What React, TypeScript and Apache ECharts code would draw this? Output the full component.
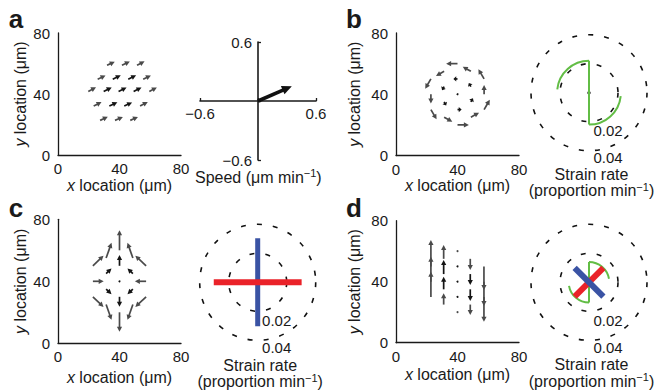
import React, { useEffect, useRef } from 'react';
import * as echarts from 'echarts';

const FONT = '"Liberation Sans", Arial, Helvetica, sans-serif';
const INK = '#1a1a1a';
const DARK = '#141414';
const GRAY = '#4a4a4a';

// tick values
const fieldTicks = [0, 40, 80];
const speedTicks = [-0.6, 0, 0.6];
const strainTicks = [0.02, 0.04];

// vector fields: [x tail, y tail, u, v] in µm
const fieldA = [
  [31.9, 58.8, 5.0, 2.4], [41.6, 58.8, 5.1, 2.5], [51.4, 58.8, 4.9, 2.6],
  [25.8, 49.7, 5.1, 2.4], [35.6, 49.7, 5.2, 2.6], [45.7, 49.7, 5.1, 2.6], [55.4, 49.7, 5.0, 2.5],
  [19.7, 41.7, 5.0, 2.7], [29.7, 41.7, 5.2, 2.6], [39.4, 41.7, 5.2, 2.5], [49.2, 41.7, 5.1, 2.5], [59.4, 41.7, 4.9, 2.6],
  [23.2, 32.1, 5.1, 2.6], [33.4, 32.1, 5.2, 2.5], [43.1, 32.1, 5.1, 2.4], [53.4, 32.1, 5.0, 2.7],
  [27.4, 22.7, 5.0, 2.4], [37.1, 22.7, 5.1, 2.3], [47.0, 22.7, 5.0, 2.3],
];
const speedA = [[0, 0, 0.35, 0.15]];
const fieldB = [
  [22.7, 30, 3.7, -6.4], [22.7, 40, 0, -6.1], [22.7, 50, -3.7, -6.4],
  [31.3, 25, 5.3, -3.0], [31.3, 35, 1.35, -2.35], [31.3, 45, -1.35, -2.35], [31.3, 55, -5.3, -3.0],
  [40, 20, 7.4, 0], [40, 30, 2.7, 0], [40, 40, 0, 0], [40, 50, -2.7, 0], [40, 60, -7.4, 0],
  [48.7, 25, 5.3, 3.0], [48.7, 35, 1.35, 2.35], [48.7, 45, -1.35, 2.35], [48.7, 55, -5.3, 3.0],
  [57.3, 30, 3.7, 6.4], [57.3, 40, 0, 6.1], [57.3, 50, -3.7, 6.4],
];
const fieldC = [
  [22.7, 30, 6.9, -6.5], [22.7, 40, 7.0, 0], [22.7, 50, 6.9, 6.5],
  [31.3, 25, 3.5, -9.8], [31.3, 35, 3.5, -3.3], [31.3, 45, 3.5, 3.3], [31.3, 55, 3.5, 9.8],
  [40, 20, 0, -12.5], [40, 30, 0, -6.4], [40, 40, 0, 0], [40, 50, 0, 7.0], [40, 60, 0, 13.0],
  [48.7, 25, -3.5, -9.8], [48.7, 35, -3.5, -3.3], [48.7, 45, -3.5, 3.3], [48.7, 55, -3.5, 9.8],
  [57.3, 30, -7.0, -6.5], [57.3, 40, -7.3, 0], [57.3, 50, -7.0, 6.5],
];
const fieldD = [
  [22.7, 30, 0, 16.6], [22.7, 40, 0, 16.4], [22.7, 50, 0, 17.3],
  [31.0, 25, 0, 7.4], [31.0, 35, 0, 8.3], [31.0, 45, 0, 9.2], [31.0, 55, 0, 9.0],
  [40, 20, 0, 0], [40, 30, 0, 0], [40, 40, 0, 0], [40, 50, 0, 0], [40, 60, 0, 0],
  [48.3, 25, 0, -6.8], [48.3, 35, 0, -7.7], [48.3, 45, 0, -7.2], [48.3, 55, 0, -7.3],
  [57.2, 30, 0, -16.2], [57.2, 40, 0, -15.9], [57.2, 50, 0, -15.4],
];

// strain-rate polar marks: [radius, angle°] and arcs [radius, from°, to°]
const greenLineB = [[0.022, 90], [0.022, 270]];
const greenArcsB = [[0.022, 90, 174], [0.022, 270, 354]];
const redC = [[0.0303, 0], [0.0303, 180]];
const blueC = [[0.0303, 90], [0.0303, 270]];
const greenLineD = [[0.014, 90], [0.014, 270]];
const greenArcsD = [[0.014, 90, 10], [0.014, 270, 190]];
const redD = [[0.014, 45], [0.014, 225]];
const blueD = [[0.014, 135], [0.014, 315]];
const center = [[0, 0]];

const GREEN = '#62bd45';
const RED = '#ea2229';
const BLUE = '#3a53a4';

function arrowShape(api: any, headLen: number, headW: number, lw: number, color: string) {
  const x = api.value(0), y = api.value(1), u = api.value(2), v = api.value(3);
  const p0 = api.coord([x, y]);
  const p1 = api.coord([x + u, y + v]);
  const len = Math.hypot(p1[0] - p0[0], p1[1] - p0[1]);
  if (len < 0.5) {
    return { type: 'circle', shape: { cx: p0[0], cy: p0[1], r: 1 }, style: { fill: color } };
  }
  const dx = (p1[0] - p0[0]) / len, dy = (p1[1] - p0[1]) / len;
  const hl = Math.min(headLen, len * 0.7);
  const bx = p1[0] - dx * hl, by = p1[1] - dy * hl;
  return {
    type: 'group',
    children: [
      { type: 'line', shape: { x1: p0[0], y1: p0[1], x2: bx + dx, y2: by + dy }, style: { stroke: color, lineWidth: lw } },
      {
        type: 'polygon',
        shape: { points: [[p1[0], p1[1]], [bx - dy * headW, by + dx * headW], [bx + dy * headW, by - dx * headW]] },
        style: { fill: color },
      },
    ],
  };
}

function fieldSeries(idx: number, data: number[][]) {
  const cx = data.reduce((s, d) => s + d[0], 0) / data.length;
  const cy = data.reduce((s, d) => s + d[1], 0) / data.length;
  return {
    type: 'custom', xAxisIndex: idx, yAxisIndex: idx, silent: true,
    data: data.map((d) => [d[0], d[1], d[2], d[3], Math.hypot(d[0] - cx, d[1] - cy) < 12 ? 1 : 0]),
    renderItem: (_p: any, api: any) => arrowShape(api, 5, 2.6, 1.7, api.value(4) ? DARK : GRAY),
  };
}

function arcSeries(polarIndex: number, data: number[][], color: string) {
  return {
    type: 'custom', coordinateSystem: 'polar', polarIndex, silent: true, data,
    renderItem: (_p: any, api: any) => {
      const c = api.coord([0, 0]);
      const e = api.coord([api.value(0), 0]);
      const r = Math.hypot(e[0] - c[0], e[1] - c[1]);
      const a1 = api.value(1), a2 = api.value(2);
      return {
        type: 'arc',
        shape: { cx: c[0], cy: c[1], r, startAngle: (-a1 * Math.PI) / 180, endAngle: (-a2 * Math.PI) / 180, clockwise: a2 < a1 },
        style: { stroke: color, fill: 'none', lineWidth: 2 },
      };
    },
  };
}

function barSeries(polarIndex: number, data: number[][], color: string, width: number) {
  return {
    type: 'line', coordinateSystem: 'polar', polarIndex, data, symbol: 'none', silent: true,
    lineStyle: { color, width, cap: 'butt' },
  };
}

function dotSeries(polarIndex: number) {
  return {
    type: 'scatter', coordinateSystem: 'polar', polarIndex, data: center, symbolSize: 3.5, silent: true,
    itemStyle: { color: '#000' },
  };
}

const axisLineStyle = { color: INK, width: 1.3 };
const nameStyle = {
  fontFamily: FONT, fontSize: 16, color: INK,
  rich: { i: { fontFamily: FONT, fontSize: 16, fontStyle: 'italic', color: INK } },
};

function fieldAxes(gridIndex: number, xGap: number, yGap: number) {
  const common = {
    gridIndex, type: 'value', min: fieldTicks[0], max: fieldTicks[2], interval: fieldTicks[1] - fieldTicks[0],
    axisLine: { show: true, onZero: false, lineStyle: axisLineStyle },
    axisTick: { show: false }, splitLine: { show: false },
    nameLocation: 'middle', nameTextStyle: nameStyle,
  };
  return {
    x: { ...common, name: '{i|x} location (μm)', nameGap: xGap, axisLabel: { fontFamily: FONT, fontSize: 15, color: INK, margin: 6 } },
    y: { ...common, name: '{i|y} location (μm)', nameGap: yGap, axisLabel: { fontFamily: FONT, fontSize: 15, color: INK, margin: 8 } },
  };
}

const fmtSpeed = (v: number) => (Math.abs(v) < 1e-9 ? '' : (v < 0 ? '−' : '') + Math.abs(v).toFixed(1));

// speed grid: left 200, top 42, width 116, height 118 -> zero lines in the middle
function speedAxis(kind: 'x' | 'y') {
  return {
    gridIndex: 1, type: 'value', min: speedTicks[0], max: speedTicks[2], interval: speedTicks[2] - speedTicks[1],
    offset: kind === 'x' ? -59 : -58,
    axisLine: { show: true, onZero: false, lineStyle: { color: INK, width: 1.6 } },
    axisTick: { show: true, inside: true, length: 3, lineStyle: { color: INK, width: 1.3 } },
    splitLine: { show: false },
    axisLabel: { fontFamily: FONT, fontSize: 15, color: INK, margin: kind === 'x' ? 5 : 6, formatter: fmtSpeed },
  };
}

const polarCenters = [[589, 92.7], [257.7, 282.3], [589, 282.3]];

function text(x: number, y: number, t: string, size = 16, weight = 'normal') {
  const hasSup = t.indexOf('{sup|') >= 0;
  return {
    type: 'text', x, y, silent: true,
    style: {
      text: t, fill: INK, fontFamily: FONT, fontSize: size, fontWeight: weight,
      align: 'center', verticalAlign: 'middle', lineHeight: hasSup ? 19 : size,
      rich: { sup: { fontFamily: FONT, fontSize: 11, fill: INK, verticalAlign: 'top', lineHeight: 9 } },
    },
  };
}

export default function App() {
  const ref = useRef<HTMLDivElement>(null);
  useEffect(() => {
    if (!ref.current) return;
    const chart = echarts.init(ref.current, null, { renderer: 'svg' });
    const aAx = fieldAxes(0, 22, 30);
    const bAx = fieldAxes(2, 21, 34);
    const cAx = fieldAxes(3, 26, 30);
    const dAx = fieldAxes(4, 24, 34);
    const graphics: any[] = [
      text(16, 19, 'a', 26, 'bold'),
      text(354, 19, 'b', 26, 'bold'),
      text(16, 207.7, 'c', 26, 'bold'),
      text(354, 207.7, 'd', 26, 'bold'),
      text(258.3, 177, 'Speed (μm min{sup|−1})'),
    ];
    const strainTitleY = [[174, 190.5], [365, 381.5], [364.5, 381]];
    polarCenters.forEach((c, i) => {
      graphics.push(text(c[0] + 19, c[1] + 38, strainTicks[0].toFixed(2), 15));
      graphics.push(text(c[0] + 19, c[1] + 65, strainTicks[1].toFixed(2), 15));
      graphics.push(text(c[0] + 2.5, strainTitleY[i][0], 'Strain rate', 16));
      graphics.push(text(c[0] + 2.5, strainTitleY[i][1], '(proportion min{sup|−1})'));
    });
    chart.setOption({
      animation: false,
      backgroundColor: '#ffffff',
      textStyle: { fontFamily: FONT },
      grid: [
        { left: 58, top: 33, width: 123, height: 122 },
        { left: 200, top: 42, width: 116, height: 118 },
        { left: 396, top: 33, width: 123, height: 122.5 },
        { left: 58, top: 219.3, width: 123, height: 124 },
        { left: 396, top: 220.7, width: 123, height: 122 },
      ],
      xAxis: [aAx.x, speedAxis('x'), bAx.x, cAx.x, dAx.x],
      yAxis: [aAx.y, speedAxis('y'), bAx.y, cAx.y, dAx.y],
      polar: polarCenters.map((c) => ({ center: c, radius: 58 })),
      angleAxis: polarCenters.map((_c, i) => ({
        polarIndex: i, type: 'value', min: 0, max: 360, startAngle: 0, clockwise: false,
        axisLine: { show: false }, axisTick: { show: false }, axisLabel: { show: false }, splitLine: { show: false },
      })),
      radiusAxis: polarCenters.map((_c, i) => ({
        polarIndex: i, type: 'value', min: 0, max: strainTicks[1], interval: strainTicks[0],
        axisLine: { show: false }, axisTick: { show: false }, axisLabel: { show: false },
        splitLine: { show: true, lineStyle: { color: '#111', width: 1.6, type: [5, 11] } },
      })),
      series: [
        fieldSeries(0, fieldA),
        {
          type: 'custom', xAxisIndex: 1, yAxisIndex: 1, silent: true, data: speedA,
          renderItem: (_p: any, api: any) => arrowShape(api, 10, 4.5, 3.6, '#111'),
        },
        fieldSeries(2, fieldB),
        fieldSeries(3, fieldC),
        fieldSeries(4, fieldD),
        barSeries(0, greenLineB, GREEN, 2),
        arcSeries(0, greenArcsB, GREEN),
        dotSeries(0),
        barSeries(1, blueC, BLUE, 5),
        barSeries(1, redC, RED, 6),
        dotSeries(1),
        barSeries(2, greenLineD, GREEN, 2),
        arcSeries(2, greenArcsD, GREEN),
        barSeries(2, redD, RED, 6),
        barSeries(2, blueD, BLUE, 6),
        dotSeries(2),
      ],
      graphic: graphics,
    });
    return () => chart.dispose();
  }, []);
  return (
    <div
      ref={ref}
      style={{ position: 'absolute', left: 0, top: 0, width: 655, height: 392, background: '#fff' }}
    />
  );
}
